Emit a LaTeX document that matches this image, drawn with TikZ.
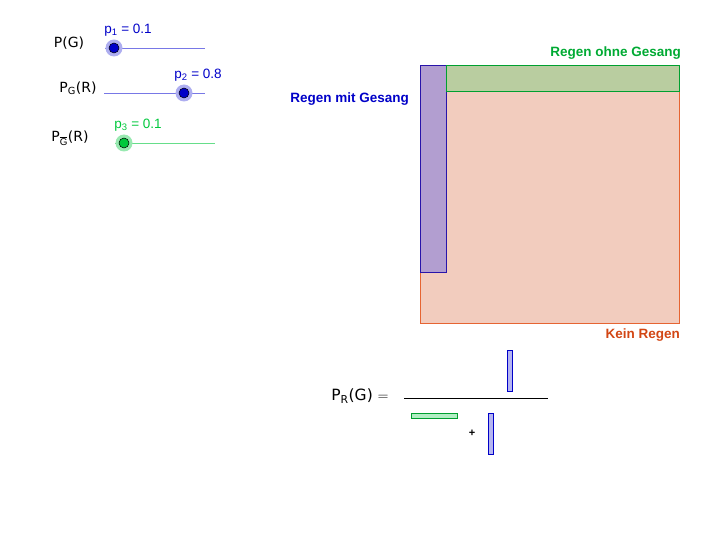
\documentclass[tikz,border=0pt]{standalone}
\usepackage{fontspec}
\setmainfont{Liberation Sans}
\setsansfont{DejaVu Sans}
\begin{document}
\begin{tikzpicture}[x=1pt,y=-1pt,
  lbl/.style={inner sep=0pt,font=\fontsize{13.5}{15}\selectfont},
  blbl/.style={inner sep=0pt,font=\fontsize{13.5}{15}\selectfont\bfseries},
  flbl/.style={inner sep=0pt,font=\sffamily\fontsize{14}{16}\selectfont},
  knob/.style={circle,inner sep=0pt,minimum size=10pt,draw=black,line width=0.5pt}]
\useasboundingbox (0,0) rectangle (722,545);
\definecolor{sb}{RGB}{0,0,200}
\definecolor{sg}{RGB}{0,200,60}
\definecolor{sl}{RGB}{120,120,230}
% sliders
\node[flbl] (t1) at (69,43) {P(G)};
\draw[sl,line width=0.6pt] (105,48) coordinate (a1) -- (205,48) coordinate (b1);
\fill[sl!60] (114,48) circle (8.5pt);
\node[knob,fill=sb] (k1) at (114,48) {};
\node[lbl,text=sb] (v1) at (128,30) {p\textsubscript{1} = 0.1};
\node[flbl] (t2) at (78,88) {P\textsubscript{G}(R)};
\draw[sl,line width=0.6pt] (104,93) coordinate (a2) -- (205,93) coordinate (b2);
\fill[sl!60] (184,93) circle (8.5pt);
\node[knob,fill=sb] (k2) at (184,93) {};
\node[lbl,text=sb] (v2) at (198,75) {p\textsubscript{2} = 0.8};
\node[flbl] (t3) at (70,138) {P\textsubscript{$\overline{\mathrm{G}}$}(R)};
\draw[sg!60,line width=0.6pt] (115,143) coordinate (a3) -- (215,143) coordinate (b3);
\fill[sg!40] (124,143) circle (8.5pt);
\node[knob,fill=sg] (k3) at (124,143) {};
\node[lbl,text=sg] (v3) at (138,125) {p\textsubscript{3} = 0.1};
% area diagram
\draw[draw={rgb,255:red,230;green,100;blue,50},fill={rgb,255:red,242;green,204;blue,190}] (420,65) rectangle (679,323);
\draw[draw={rgb,255:red,40;green,20;blue,170},fill={rgb,255:red,178;green,158;blue,208}] (420,65) rectangle (446,272);
\draw[draw=sg!80!black,fill={rgb,255:red,185;green,205;blue,160}] (446,65) rectangle (679,91);
\node[blbl,text=sg!85!black,anchor=east] (l1) at (681,53) {Regen ohne Gesang};
\node[blbl,text=sb,anchor=east] (l2) at (409,99) {Regen mit Gesang};
\node[blbl,text={rgb,255:red,210;green,70;blue,20},anchor=east] (l3) at (680,335) {Kein Regen};
% fraction
\node[flbl,font=\sffamily\fontsize{15.5}{17}\selectfont] (pr) at (360,396) {P\textsubscript{R}(G) $=$};
\draw[line width=0.6pt] (404,398) -- (548,398);
\draw[draw=sb,fill=sl!55] (507,350) rectangle (512,391);
\draw[draw=sg!80!black,fill=sg!30] (411,413) rectangle (457,418);
\node[lbl,font=\fontsize{11}{12}\selectfont\bfseries] (plus) at (472,433) {+};
\draw[draw=sb,fill=sl!55] (488,413) rectangle (493,454);
\end{tikzpicture}
\end{document}
